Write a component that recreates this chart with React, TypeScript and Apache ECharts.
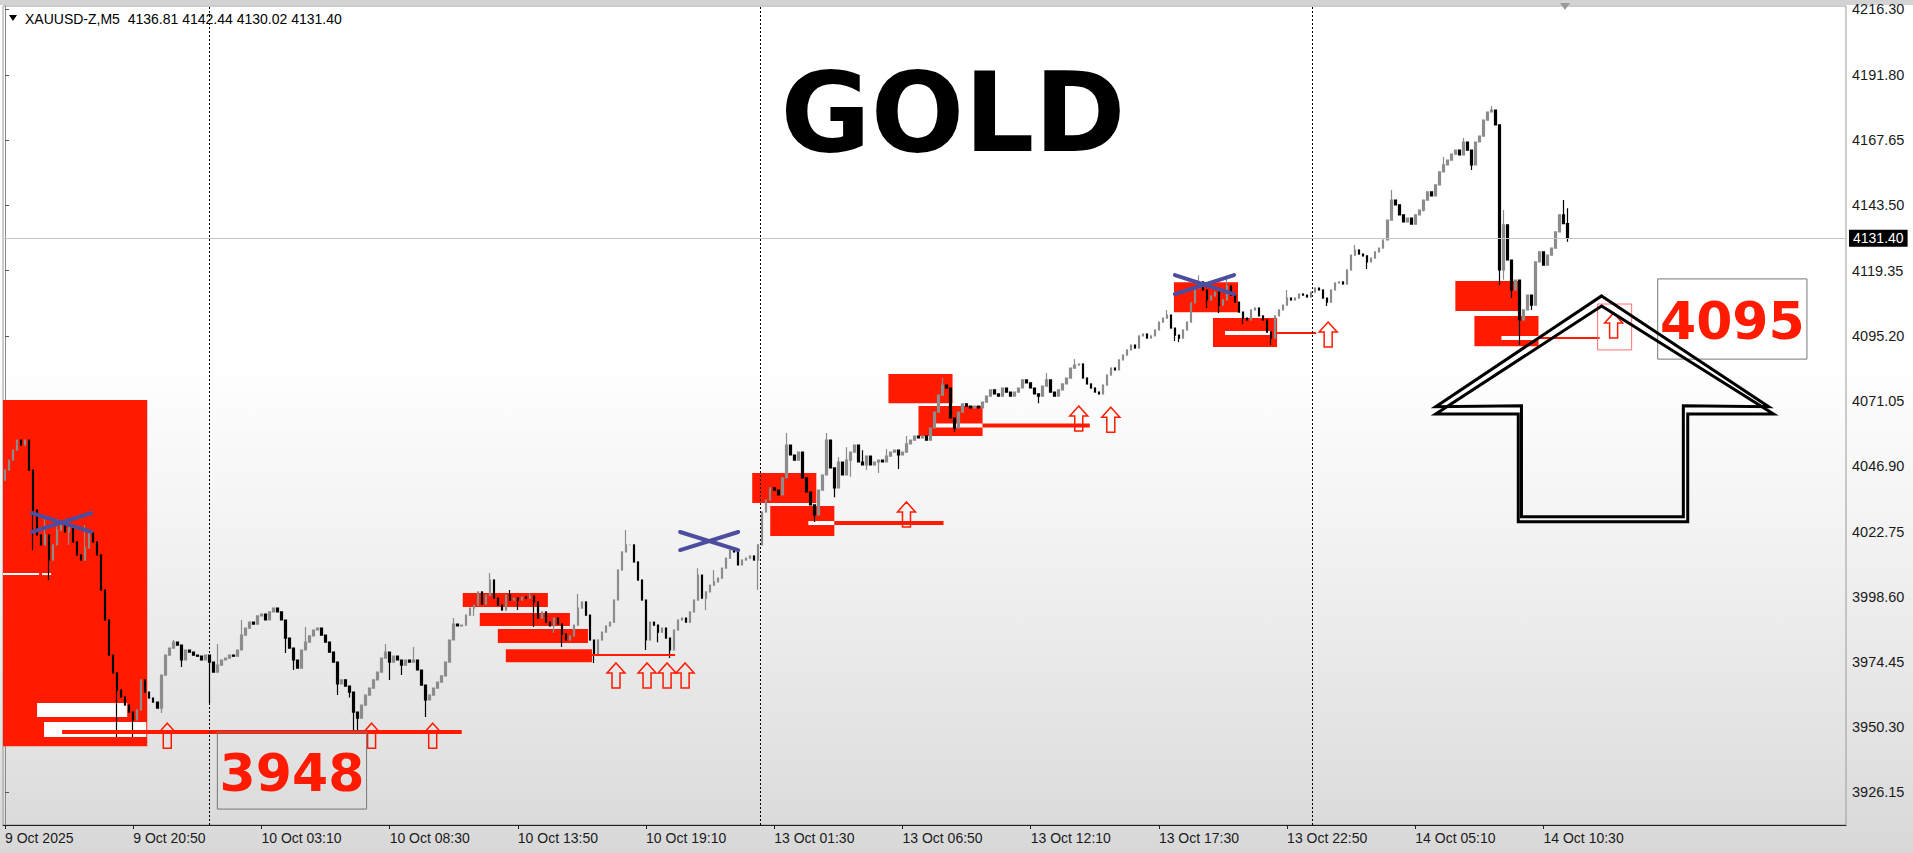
import React, { useEffect, useRef } from 'react';
import * as echarts from 'echarts';

// ---------- axis texts ----------
const xLabels = ['9 Oct 2025', '9 Oct 20:50', '10 Oct 03:10', '10 Oct 08:30', '10 Oct 13:50', '10 Oct 19:10', '13 Oct 01:30', '13 Oct 06:50', '13 Oct 12:10', '13 Oct 17:30', '13 Oct 22:50', '14 Oct 05:10', '14 Oct 10:30'];
const xLabelStep = 32; // candles between time labels
const yLabels = [3926.15, 3950.3, 3974.45, 3998.6, 4022.75, 4046.9, 4071.05, 4095.2, 4119.35, 4143.5, 4167.65, 4191.8, 4216.3];
const header = 'XAUUSD-Z,M5  4136.81 4142.44 4130.02 4131.40';
const lastPrice = 4131.4;
const daySeparators = [51, 188.5, 326.25];

// ---------- price data (each candle = two M5 bars) ----------
const firstOpen = 4041.8;
const closesOct9 = [4045.5, 4049.2, 4052.9, 4056.6, 4054.8, 4056.6, 4045.5, 4030.7, 4021.5, 4017.8, 4021.5, 4012.2, 4017.8, 4023.3, 4026.3, 4022.6, 4024.1, 4018.9, 4014.1, 4012.2, 4016.7, 4022.2, 4018.9, 4014.1, 4001.1, 3990.0, 3977.0, 3970.4, 3964.1, 3961.5, 3958.5, 3955.9, 3953.0, 3956.7, 3967.8, 3963.3, 3961.1, 3959.6, 3957.4, 3969.6, 3977.0, 3979.6, 3981.8, 3980.7, 3975.2, 3978.9, 3978.1, 3977.0, 3976.6, 3975.2, 3977.0];
const closesOct10 = [3974.4, 3970.7, 3973.3, 3975.2, 3975.9, 3977.0, 3976.6, 3978.9, 3984.4, 3987.0, 3989.2, 3988.5, 3991.5, 3992.2, 3990.0, 3993.0, 3994.4, 3993.0, 3990.0, 3983.3, 3979.6, 3975.2, 3972.2, 3978.9, 3981.8, 3984.1, 3986.3, 3987.0, 3984.4, 3981.8, 3978.1, 3974.4, 3966.3, 3967.8, 3965.5, 3963.3, 3955.9, 3953.7, 3958.5, 3962.2, 3964.8, 3967.8, 3970.7, 3975.9, 3978.1, 3974.4, 3976.6, 3975.2, 3973.3, 3975.2, 3974.4, 3975.2, 3971.5, 3965.9, 3960.4, 3962.2, 3964.8, 3967.0, 3969.3, 3974.4, 3982.6, 3988.5, 3987.8, 3988.1, 3991.8, 3994.4, 3995.5, 4000.4, 3995.9, 3999.2, 4004.8, 3998.1, 3995.5, 3993.7, 3999.2, 3997.4, 3998.1, 3997.4, 3998.5, 3998.1, 3998.9, 3996.7, 3990.7, 3993.0, 3989.2, 3987.8, 3990.7, 3988.5, 3984.8, 3982.6, 3984.1, 3988.1, 3994.4, 3996.7, 3991.8, 3982.6, 3977.0, 3982.6, 3985.5, 3987.8, 3989.2, 3997.4, 4008.5, 4015.2, 4017.8, 4017.8, 4011.5, 4004.8, 3997.4, 3982.6, 3989.2, 3988.1, 3985.5, 3987.0, 3983.3, 3978.9, 3986.3, 3990.0, 3990.7, 3989.2, 3993.0, 3997.4, 4006.6, 3998.1, 4000.4, 4002.9, 4004.1, 4005.5, 4009.2, 4012.9, 4015.9, 4015.2, 4010.4, 4012.2, 4012.9, 4013.7, 4012.2, 4017.8];
const closesOct13 = [4030.0, 4034.4, 4038.9, 4038.1, 4036.3, 4042.6, 4054.8, 4051.1, 4049.2, 4052.2, 4042.6, 4037.4, 4032.6, 4028.9, 4038.1, 4043.7, 4056.6, 4046.3, 4038.9, 4048.5, 4043.7, 4049.2, 4052.2, 4054.8, 4048.5, 4047.4, 4050.7, 4047.4, 4048.5, 4049.2, 4048.5, 4050.7, 4052.2, 4052.9, 4051.1, 4052.2, 4055.2, 4056.6, 4058.1, 4057.4, 4058.1, 4056.6, 4061.1, 4067.0, 4073.3, 4077.0, 4075.9, 4064.8, 4061.1, 4067.0, 4070.0, 4069.2, 4068.5, 4069.2, 4068.5, 4070.7, 4072.9, 4075.2, 4073.7, 4072.9, 4075.9, 4074.4, 4072.9, 4074.4, 4075.9, 4078.9, 4077.8, 4075.9, 4073.7, 4072.9, 4076.6, 4078.9, 4074.4, 4072.9, 4075.2, 4077.4, 4079.6, 4083.3, 4084.4, 4084.8, 4079.6, 4077.4, 4075.9, 4074.4, 4073.7, 4077.0, 4080.7, 4083.3, 4082.6, 4086.3, 4088.1, 4090.0, 4091.8, 4090.7, 4095.2, 4095.9, 4094.4, 4095.2, 4097.4, 4100.3, 4101.8, 4102.9, 4098.1, 4095.5, 4094.4, 4097.4, 4100.3, 4107.4, 4112.9, 4115.2, 4112.2, 4108.5, 4110.0, 4111.4, 4106.6, 4108.5, 4113.7, 4110.3, 4107.7, 4104.0, 4101.8, 4101.1, 4104.8, 4105.5, 4102.6, 4101.1, 4096.6, 4094.4, 4102.6, 4104.8, 4106.6, 4109.2, 4108.5, 4109.2, 4110.7, 4110.3, 4109.6, 4111.4];
const closesOct14 = [4112.9, 4112.2, 4109.2, 4107.7, 4112.2, 4114.8, 4115.2, 4114.4, 4119.6, 4125.1, 4127.0, 4125.5, 4124.8, 4122.6, 4124.0, 4126.3, 4127.7, 4130.7, 4138.1, 4145.5, 4143.7, 4140.0, 4137.4, 4138.8, 4136.6, 4140.0, 4141.8, 4145.5, 4148.5, 4147.0, 4151.1, 4155.9, 4158.5, 4160.3, 4162.5, 4164.0, 4162.2, 4167.0, 4164.0, 4158.5, 4167.0, 4169.2, 4175.1, 4178.1, 4178.8, 4173.3, 4119.6, 4136.3, 4123.3, 4112.2, 4115.9, 4101.1, 4104.8, 4110.3, 4106.6, 4122.6, 4126.3, 4121.4, 4125.1, 4127.7, 4133.7, 4140.0, 4136.8, 4131.4];
// wicks: [candle index, price]
const lowWicks = [[7, 4015.9], [11, 4004.8], [16, 4017.8], [28, 3946.7], [32, 3946.7], [39, 3955.6], [44, 3972.6], [51, 3959.3], [70, 3977.8], [72, 3971.5], [83, 3962.2], [86, 3961.3], [87, 3948.0], [88, 3948.1], [96, 3967.8], [99, 3969.6], [105, 3954.1], [117, 3991.5], [128, 3993.7], [132, 3987.4], [137, 3985.2], [139, 3980.0], [147, 3974.1], [148, 3979.6], [160, 3978.9], [163, 3981.8], [166, 3975.9], [175, 3993.7], [188, 4001.1], [202, 4026.3], [207, 4035.5], [211, 4043.0], [215, 4045.5], [218, 4044.4], [223, 4045.9], [237, 4059.6], [258, 4070.3], [292, 4093.3], [293, 4092.9], [300, 4105.5], [303, 4103.7], [309, 4099.6], [316, 4091.8], [330, 4106.3], [340, 4120.0], [354, 4141.3], [366, 4156.6], [373, 4114.0], [374, 4116.0], [376, 4109.2], [378, 4091.8], [381, 4104.8], [390, 4130.02]];
const highWicks = [[10, 4028.9], [13, 4027.4], [20, 4025.2], [42, 3982.6], [53, 3981.1], [59, 3990.0], [75, 3987.4], [95, 3981.1], [102, 3980.0], [112, 3990.7], [121, 4007.4], [126, 4001.1], [131, 4000.0], [143, 3999.6], [155, 4023.3], [159, 4001.5], [173, 4009.2], [177, 4008.5], [195, 4059.2], [205, 4059.2], [208, 4050.3], [210, 4054.0], [214, 4052.9], [220, 4053.3], [225, 4058.1], [234, 4079.6], [260, 4081.5], [267, 4086.6], [290, 4104.8], [298, 4117.7], [305, 4116.3], [320, 4112.2], [337, 4128.9], [346, 4149.2], [359, 4161.4], [364, 4168.5], [371, 4180.3], [374, 4141.8], [389, 4145.5], [390, 4142.44]];

// ---------- drawn objects (candle index, price) ----------
const redZones = [[-0.5, 35.5, 4071.5, 3943.3], [114.25, 135.5, 4000.0, 3994.8], [118.5, 141, 3992.6, 3987.8], [123, 145.5, 3986.7, 3981.5], [125, 146.5, 3979.2, 3974.4], [186.5, 202.5, 4044.4, 4033.3], [191, 207, 4032.2, 4021.1], [220.5, 236.5, 4081.1, 4070.3], [228, 244, 4069.2, 4058.1], [291.75, 307.75, 4115.1, 4104.0], [301.5, 317.5, 4101.8, 4091.1], [362, 378, 4115.5, 4104.4], [366.75, 382.75, 4102.6, 4091.4]];
const whiteZones = [[8, 30.5, 3959.3, 3954.1], [9.75, 35.25, 3952.2, 3946.7]];
const thickRedLevels = [[14.25, 114, 3948.5], [207, 234.25, 4025.9], [244, 270.75, 4062.0]];
const thinRedLevels = [[146.5, 167.25, 3977.0], [317.5, 327.25, 4096.3], [382.75, 398, 4094.4]];
const whiteLevels = [[200.5, 207, 4025.9], [232.25, 244, 4062.0], [304.5, 315.75, 4096.3], [373.5, 382.75, 4094.4]];
const whiteDashes = [[-0.5, 8.5, 4007.0], [9.25, 11.5, 4007.0]];
const upArrows = [[40.5, 3951.8], [91.5, 3951.8], [106.75, 3951.8], [152.5, 3974.1], [160.25, 3974.1], [165.25, 3974.1], [169.75, 3974.1], [225, 4033.7], [268, 4069.2], [276, 4068.8], [330.25, 4100.3], [401.5, 4103.7]];
const arrowFrames = [[397.5, 406, 4107.0, 4090.0]];
const crosses = [[6.75, 21.5, 4029.6, 4022.6], [168.5, 183, 4022.6, 4015.9], [292, 306.75, 4117.7, 4110.7]];
const levelBoxes = [[53, 90.25, 3948.5, 3920.0], [412.5, 449.75, 4116.3, 4086.6]];
const levelTexts = ['3948', '4095'];
const bigArrowUpper = [[398.5, 4110.0], [440.2, 4069.0], [418.9, 4069.35], [418.9, 4028.2], [378.5, 4028.2], [378.5, 4069.35], [357.1, 4069.0]];
const bigArrowLower = [[398.5, 4106.3], [441.4, 4066.3], [420.0, 4066.3], [420.0, 4026.4], [377.7, 4026.4], [377.7, 4066.3], [357.1, 4066.3]];

const RED = '#ff1a00';
const BLUE = '#4d4da0';
const FONT = '"Liberation Sans", Arial, sans-serif';
const BIG = '"DejaVu Sans", sans-serif';

function buildCandles() {
  const closes = [...closesOct9, ...closesOct10, ...closesOct13, ...closesOct14];
  const lo = new Map(lowWicks.map(([i, v]) => [i, v]));
  const hi = new Map(highWicks.map(([i, v]) => [i, v]));
  return closes.map((c, i) => {
    const o = i === 0 ? firstOpen : closes[i - 1];
    const l = Math.min(o, c, lo.has(i) ? (lo.get(i) as number) : Infinity);
    const h = Math.max(o, c, hi.has(i) ? (hi.get(i) as number) : -Infinity);
    return [i, o, c, l, h];
  });
}

function rectSeries(data: number[][], fill: string, z: number) {
  return {
    type: 'custom', z, silent: true, data, encode: { x: [0, 1], y: [2, 3] },
    renderItem: (_p: any, api: any) => {
      const a = api.coord([api.value(0), api.value(2)]);
      const b = api.coord([api.value(1), api.value(3)]);
      return { type: 'rect', shape: { x: a[0], y: a[1], width: b[0] - a[0], height: b[1] - a[1] }, style: { fill } };
    },
  };
}

function levelSeries(data: number[][], fill: string, thickness: number, z: number) {
  return {
    type: 'custom', z, silent: true, data, encode: { x: [0, 1], y: 2 },
    renderItem: (_p: any, api: any) => {
      const a = api.coord([api.value(0), api.value(2)]);
      const b = api.coord([api.value(1), api.value(2)]);
      return { type: 'rect', shape: { x: a[0], y: a[1] - thickness / 2, width: b[0] - a[0], height: thickness }, style: { fill } };
    },
  };
}

const option: any = {
  animation: false,
  grid: { left: 3, right: 67, top: 6, bottom: 28, show: true, borderColor: '#9a9a9a', borderWidth: 1, containLabel: false, outerBoundsMode: 'none' },
  xAxis: {
    type: 'value', min: -0.5, max: 459.5,
    splitLine: { show: false },
    axisLine: { show: true, lineStyle: { color: '#222', width: 1 } },
    axisTick: { show: true, length: 4, customValues: xLabels.map((_, k) => k * xLabelStep), lineStyle: { color: '#222' } },
    axisLabel: {
      customValues: xLabels.map((_, k) => k * xLabelStep),
      formatter: (v: number) => xLabels[Math.round(v / xLabelStep)] || '',
      align: 'left', margin: 6, color: '#1a1a1a', fontSize: 14, fontFamily: FONT,
    },
  },
  yAxis: {
    type: 'value', position: 'right', min: 3914.1, max: 4217.35, scale: true,
    splitLine: { show: false },
    axisLine: { show: true, lineStyle: { color: '#8a8a8a', width: 1 } },
    axisTick: { show: true, length: 4, customValues: yLabels, lineStyle: { color: '#555' } },
    axisLabel: { customValues: yLabels, formatter: (v: number) => v.toFixed(2), margin: 6, color: '#1a1a1a', fontSize: 14.5, fontFamily: FONT },
  },
  graphic: [
    { type: 'rect', shape: { x: 0, y: 0, width: 1913, height: 5 }, style: { fill: '#d3d3d3' }, silent: true },
    { type: 'polygon', shape: { points: [[1560, 3], [1570, 3], [1565, 10]] }, style: { fill: '#9a9a9a' }, silent: true },
    { type: 'polygon', shape: { points: [[9, 15], [17, 15], [13, 21]] }, style: { fill: '#000' }, silent: true },
    { type: 'text', x: 25, y: 19, style: { text: header, fill: '#000', font: `14px ${FONT}`, verticalAlign: 'middle' }, silent: true },
    { type: 'text', x: 953, y: 113, style: { text: 'GOLD', fill: '#000', font: `bold 110px ${BIG}`, align: 'center', verticalAlign: 'middle' }, silent: true },
  ],
  series: [
    rectSeries(redZones, RED, 1),
    rectSeries(whiteZones, '#ffffff', 1),
    levelSeries(whiteLevels, '#ffffff', 4, 1),
    levelSeries(whiteDashes, '#ffffff', 2, 1),
    {
      type: 'candlestick', z: 3, data: buildCandles(), barWidth: 2,
      itemStyle: { color: '#8c8c8c', color0: '#000000', borderColor: '#8c8c8c', borderColor0: '#000000', borderWidth: 1.2 },
      markLine: {
        silent: true, symbol: 'none', animation: false,
        data: [
          ...daySeparators.map((d) => ({ xAxis: d, lineStyle: { type: [2, 2], color: '#000', width: 1 }, label: { show: false } })),
          {
            yAxis: lastPrice, lineStyle: { type: 'solid', color: '#c4c4c4', width: 1 },
            label: { show: true, position: 'end', formatter: lastPrice.toFixed(2), backgroundColor: '#000', color: '#fff', padding: [2, 4, 1, 4], distance: 3, fontSize: 14, fontFamily: FONT },
          },
        ],
      },
    },
    levelSeries(thickRedLevels, RED, 4, 4),
    levelSeries(thinRedLevels, RED, 2, 4),
    {
      type: 'custom', z: 5, silent: true, data: upArrows,
      renderItem: (_p: any, api: any) => {
        const p = api.coord([api.value(0), api.value(1)]);
        const shape = [[0, 0], [9, 10], [4, 10], [4, 25], [-4, 25], [-4, 10], [-9, 10]];
        return { type: 'polygon', shape: { points: shape.map(([dx, dy]) => [p[0] + dx, p[1] + dy]) }, style: { fill: 'none', stroke: RED, lineWidth: 1.5 } };
      },
    },
    {
      type: 'custom', z: 5, silent: true, data: arrowFrames, encode: { x: [0, 1], y: [2, 3] },
      renderItem: (_p: any, api: any) => {
        const a = api.coord([api.value(0), api.value(2)]);
        const b = api.coord([api.value(1), api.value(3)]);
        return { type: 'rect', shape: { x: a[0], y: a[1], width: b[0] - a[0], height: b[1] - a[1] }, style: { fill: 'none', stroke: '#ff7070', lineWidth: 1 } };
      },
    },
    {
      type: 'custom', z: 6, silent: true, data: crosses, encode: { x: [0, 1], y: [2, 3] },
      renderItem: (_p: any, api: any) => {
        const a = api.coord([api.value(0), api.value(2)]);
        const b = api.coord([api.value(1), api.value(3)]);
        const st = { stroke: BLUE, lineWidth: 4, lineCap: 'round' };
        return {
          type: 'group', children: [
            { type: 'line', shape: { x1: a[0], y1: a[1], x2: b[0], y2: b[1] }, style: st },
            { type: 'line', shape: { x1: a[0], y1: b[1], x2: b[0], y2: a[1] }, style: st },
          ],
        };
      },
    },
    {
      type: 'custom', z: 6, silent: true, data: levelBoxes, encode: { x: [0, 1], y: [2, 3] },
      renderItem: (p: any, api: any) => {
        const a = api.coord([api.value(0), api.value(2)]);
        const b = api.coord([api.value(1), api.value(3)]);
        return {
          type: 'group', children: [
            { type: 'rect', shape: { x: a[0], y: a[1], width: b[0] - a[0], height: b[1] - a[1] }, style: { fill: 'none', stroke: '#777', lineWidth: 1 } },
            { type: 'text', x: (a[0] + b[0]) / 2, y: (a[1] + b[1]) / 2 + 2, style: { text: levelTexts[p.dataIndex], fill: RED, font: `bold 52px ${BIG}`, align: 'center', verticalAlign: 'middle' } },
          ],
        };
      },
    },
    {
      type: 'custom', z: 7, silent: true, data: [bigArrowUpper[0], bigArrowLower[0]],
      renderItem: (p: any, api: any) => {
        const pts = (p.dataIndex === 0 ? bigArrowUpper : bigArrowLower).map((q) => api.coord(q));
        return { type: 'polygon', shape: { points: pts }, style: { fill: 'none', stroke: '#000', lineWidth: 3, lineJoin: 'miter' } };
      },
    },
  ],
};

export default function App() {
  const ref = useRef<HTMLDivElement>(null);
  useEffect(() => {
    const chart = echarts.init(ref.current as HTMLDivElement, null, { renderer: 'svg' });
    chart.setOption(option);
    return () => chart.dispose();
  }, []);
  return (
    <div
      ref={ref}
      style={{
        position: 'fixed', left: 0, top: 0, width: 1913, height: 853,
        background: 'linear-gradient(to bottom, #ffffff 0%, #ffffff 42%, #f1f1f1 65%, #e2e2e2 88%, #d8d8d8 100%)',
      }}
    />
  );
}
